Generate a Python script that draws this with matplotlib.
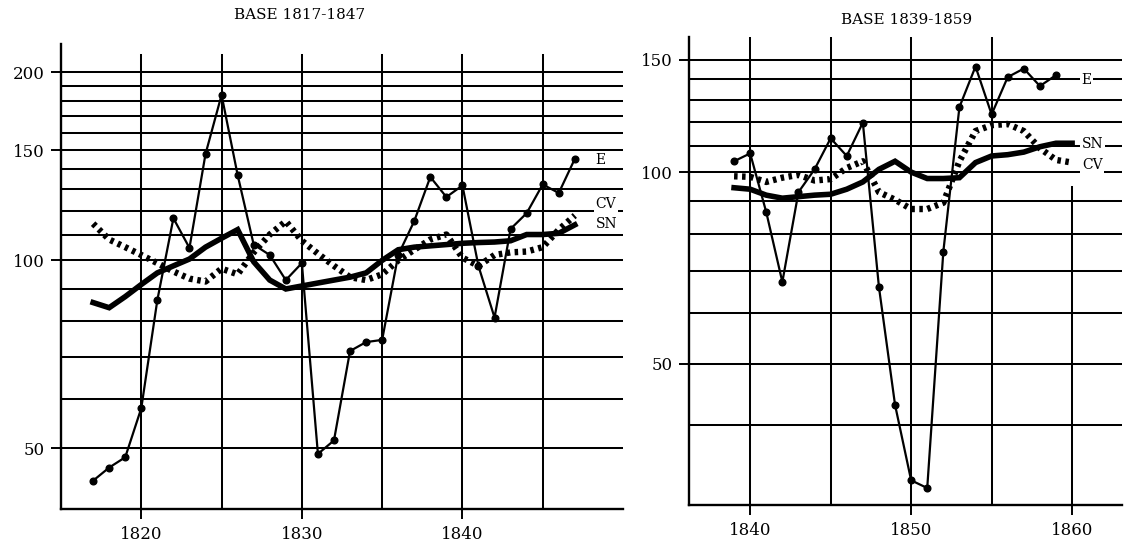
import matplotlib
matplotlib.use('Agg')
import matplotlib.pyplot as plt
from matplotlib.ticker import NullLocator

plt.rcParams['font.family'] = ['DejaVu Serif']

# left panel: base 1817-1847
years_a = list(range(1817, 1848))
e_a = [44.4, 46.6, 48.4, 58.0, 86.4, 116.8, 104.7, 148, 184, 137, 106, 102, 93, 99,
       49, 51.5, 71.6, 74, 74.6, 102, 115.6, 136, 126.3, 131.8, 97.9, 81, 112.3,
       119, 132.3, 128.2, 145.4]
sn_a = [85.6, 84, 87.5, 91.5, 95.5, 98, 100.5, 105, 108.5, 112, 99.5, 93, 90, 91,
        92, 93, 94, 95.5, 100, 104, 105, 105.5, 106, 106.5, 106.8, 107, 107.5,
        110, 110, 110.5, 114]
cv_a = [114.5, 108, 105, 102, 99, 96, 93.5, 92.5, 97, 95, 103, 110, 115.5, 107.5,
        102.5, 98, 94, 93, 95, 100, 104, 108, 110, 101, 98, 102, 103, 103.3, 105,
        112, 118]

# right panel: base 1839-1859
years_b_e = list(range(1839, 1860))
e_b = [104, 107, 86.5, 67.2, 93, 101, 113, 106, 119.6, 66, 43.1, 32.8, 31.9, 75,
       126.5, 146.5, 123.2, 141, 145.4, 136.5, 142]
years_b = list(range(1839, 1861))
sn_b = [94.5, 94, 92, 91, 91.5, 92, 92.3, 94, 96.5, 101, 104, 100, 97.7, 97.7, 98,
        103.5, 106, 106.5, 107.5, 109.6, 111, 111]
cv_b = [98.5, 98.3, 96.5, 98, 99, 97, 97.5, 101.5, 104, 93, 90.5, 87.5, 87.5, 89.5,
        104, 116, 118.5, 119, 116, 109, 104.5, 103.5]

W, H = 1127, 551
fig = plt.figure(figsize=(W / 100, H / 100), dpi=100)
ax1 = fig.add_axes([61 / W, 1 - 509 / H, (623 - 61) / W, (509 - 44) / H])
ax2 = fig.add_axes([689 / W, 1 - 505 / H, (1122 - 689) / W, (505 - 37) / H])

lbl_box = dict(facecolor='white', edgecolor='none', pad=1)


def setup(ax, xlim, ylim, hgrid, vgrid, xticks, yticks):
    ax.set_yscale('log')
    ax.set_xlim(*xlim)
    ax.set_ylim(*ylim)
    for s in ['top', 'right']:
        ax.spines[s].set_visible(False)
    for s in ['left', 'bottom']:
        ax.spines[s].set_linewidth(1.7)
    for v in hgrid:
        ax.axhline(v, color='black', lw=1.45, zorder=1)
    for x, top in vgrid:
        ax.axvline(x, ymax=top, color='black', lw=1.45, zorder=1)
    ax.set_xticks(xticks, labels=[str(t) for t in xticks])
    ax.set_yticks(yticks, labels=[str(t) for t in yticks])
    ax.yaxis.set_minor_locator(NullLocator())
    ax.xaxis.set_minor_locator(NullLocator())
    ax.tick_params(direction='out', length=7, width=1.4, labelsize=12, pad=5)


def draw(ax, yrs_e, e, yrs, sn, cv):
    ax.plot(yrs, cv, color='black', lw=4.6, linestyle=(0, (0.55, 0.7)),
            dash_capstyle='butt', zorder=3)
    ax.plot(yrs, sn, color='black', lw=4, solid_joinstyle='miter', zorder=4)
    ax.plot(yrs_e, e, color='black', lw=1.6, marker='o', markersize=4.8, zorder=5)


setup(ax1, (1815, 1850), (40, 222), range(50, 201, 10),
      [(1820, 0.977), (1825, 0.977), (1830, 0.977), (1835, 0.977),
       (1840, 0.977), (1845, 0.977)],
      [1820, 1830, 1840], [50, 100, 150, 200])
draw(ax1, years_a, e_a, years_a, sn_a, cv_a)
ax1.text(1848.3, 145, 'E', ha='left', va='center', fontsize=10, bbox=lbl_box, zorder=6)
ax1.text(1848.3, 123, 'CV', ha='left', va='center', fontsize=10, bbox=lbl_box, zorder=6)
ax1.text(1848.3, 114.5, 'SN', ha='left', va='center', fontsize=10, bbox=lbl_box, zorder=6)

setup(ax2, (1836.2, 1863.1), (30, 163), range(40, 151, 10),
      [(1840, 1), (1845, 1), (1850, 1), (1855, 1), (1860, 0.68)],
      [1840, 1850, 1860], [50, 100, 150])
draw(ax2, years_b_e, e_b, years_b, sn_b, cv_b)
ax2.text(1860.6, 139.5, 'E', ha='left', va='center', fontsize=10, bbox=lbl_box, zorder=6)
ax2.text(1860.6, 110.5, 'SN', ha='left', va='center', fontsize=10, bbox=lbl_box, zorder=6)
ax2.text(1860.6, 102.5, 'CV', ha='left', va='center', fontsize=10, bbox=lbl_box, zorder=6)

fig.text(300 / W, 1 - 15 / H, 'BASE 1817-1847', ha='center', va='center', fontsize=11)
fig.text(907 / W, 1 - 20 / H, 'BASE 1839-1859', ha='center', va='center', fontsize=11)

fig.savefig('out.png', dpi=100, facecolor='white')
